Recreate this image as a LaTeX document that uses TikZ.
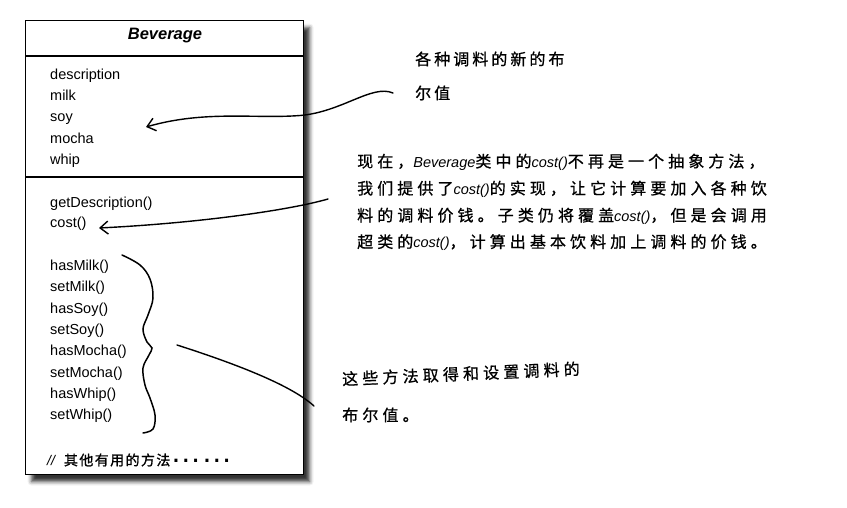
\documentclass[tikz,border=0pt]{standalone}
\usepackage{fontspec}
\setmainfont{Liberation Sans}
\newfontfamily\cjk{Noto Sans CJK SC}
\newfontfamily\cjkA[LetterSpace=19,FakeBold=0.8]{Noto Sans CJK SC}
\newfontfamily\cjkB[LetterSpace=25.5,FakeBold=0.8]{Noto Sans CJK SC}
\newfontfamily\cjkC[LetterSpace=26,FakeBold=0.8]{Noto Sans CJK SC}
\newfontfamily\cjkD[LetterSpace=10,FakeBold=1]{Noto Sans CJK SC}
\newfontfamily\latfont{Liberation Sans}
\newcommand{\lat}[1]{{\latfont\fontsize{14.5}{16}\selectfont\itshape #1}}
\usetikzlibrary{arrows.meta,shadows.blur}
\begin{document}
\begin{tikzpicture}[x=1pt,y=-1pt,
  umlbox/.style={draw, line width=1.2pt, fill=white, minimum width=278pt, minimum height=454pt, anchor=north west,
    blur shadow={shadow xshift=6pt, shadow yshift=-7pt, shadow blur radius=4pt, shadow opacity=80}},
  member/.style={anchor=west, inner sep=0pt, font=\fontsize{14.5}{16}\selectfont, text height=1.5ex, text depth=.3ex},
  note/.style={anchor=west, inner sep=0pt, font=\fontsize{16}{18}\selectfont},
  hand/.style={line width=1.4pt, line cap=round},
  handarrow/.style={hand, -{Straight Barb[length=8pt,width=13pt,line width=1.4pt]}}
]
\useasboundingbox (0,0) rectangle (847,507);
\node[umlbox] (box) at (25,20) {};
\draw[line width=1.2pt] (box.west |- 0,56) coordinate (s1) -- (box.east |- 0,56) coordinate (s1e);
\draw[line width=1.2pt] (box.west |- 0,177) coordinate (s2) -- (box.east |- 0,177) coordinate (s2e);
\node[font=\fontsize{16.5}{18}\selectfont\bfseries\itshape, inner sep=0pt] (title) at (165,36) {Beverage};
% attributes
\node[member] (description) at (50,76) {description};
\node[member] (milk) at (50,97.3) {milk};
\node[member] (soy) at (50,118.6) {soy};
\node[member] (mocha) at (50,139.9) {mocha};
\node[member] (whip) at (50,161.2) {whip};
% methods
\node[member] (getdesc) at (50,204.5) {getDescription()};
\node[member] (cost) at (50,224.5) {cost()};
\node[member] (hasmilk) at (50,267.5) {hasMilk()};
\node[member] (setmilk) at (50,288.8) {setMilk()};
\node[member] (hassoy) at (50,310.1) {hasSoy()};
\node[member] (setsoy) at (50,331.4) {setSoy()};
\node[member] (hasmocha) at (50,352.7) {hasMocha()};
\node[member] (setmocha) at (50,374) {setMocha()};
\node[member] (haswhip) at (50,395.3) {hasWhip()};
\node[member] (setwhip) at (50,416.6) {setWhip()};
\node[anchor=west, inner sep=0pt] (other) at (47,460) {{\fontsize{14}{16}\selectfont\itshape //}\hspace{9pt}{\cjkD\fontsize{14}{16}\selectfont 其他有用的方法}\smash{\raisebox{3pt}{\latfont\fontsize{31}{32}\selectfont ……}}};
% notes
\node[note] (n1a) at (415,59) {\cjkA 各种调料的新的布};
\node[note] (n1b) at (415,93) {\cjkA 尔值};
\node[note] (n2a) at (357,162) {\cjkB 现在，\lat{Beverage}类中的\lat{cost()}不再是一个抽象方法，};
\node[note] (n2b) at (357,189) {\cjkB 我们提供了\lat{cost()}的实现，让它计算要加入各种饮};
\node[note] (n2c) at (357,216) {\cjkB 料的调料价钱。子类仍将覆盖\lat{cost()}，但是会调用};
\node[note] (n2d) at (357,242.5) {\cjkB 超类的\lat{cost()}，计算出基本饮料加上调料的价钱。};
\node[note, rotate=2.5] (n3a) at (342,379) {\cjkC 这些方法取得和设置调料的};
\node[note] (n3b) at (342,415) {\cjkC 布尔值。};
% connectors
\coordinate (a1s) at (393,93);
\coordinate (a1e) at (146,127);
\draw[handarrow] (a1s) .. controls (372,84) and (342,112) .. (300,115.5) .. controls (255,119) and (205,110) .. (a1e);
\coordinate (a2s) at (328,199);
\coordinate (a2e) at (99,228);
\draw[handarrow] (a2s) .. controls (290,210) and (200,223) .. (a2e);
\coordinate (l3s) at (177,345);
\coordinate (l3e) at (314,406);
\draw[hand] (l3s) .. controls (230,362) and (290,384) .. (l3e);
% brace
\draw[hand, line width=1.5pt] plot[smooth, tension=0.6] coordinates {(122,255) (140,265) (150,279) (153,298) (148,315) (143,329) (147,342) (152,348) (149,355) (143,368) (145,385) (150,398) (155,415) (153,429) (143,433)};
\end{tikzpicture}
\end{document}
